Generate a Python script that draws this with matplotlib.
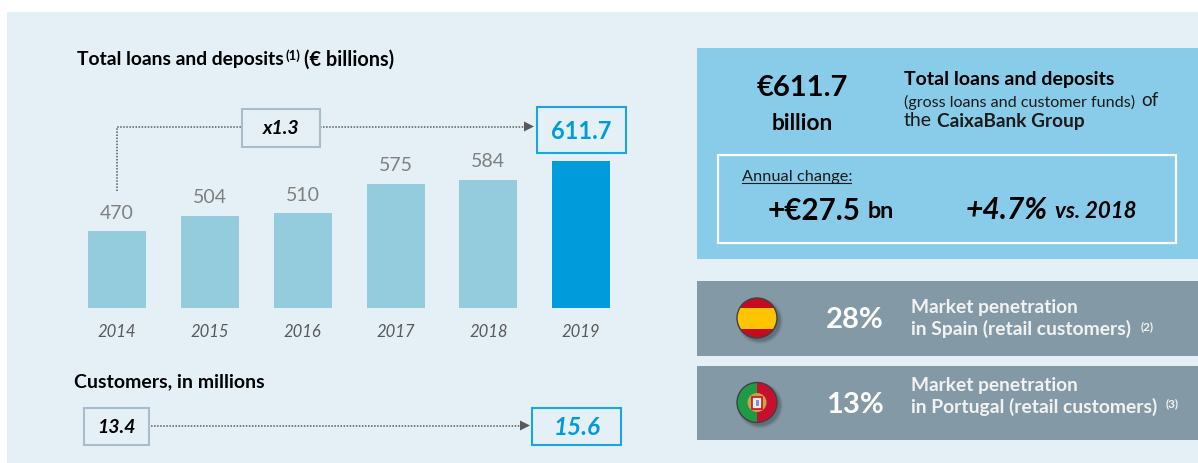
import matplotlib
matplotlib.use("Agg")
from matplotlib import pyplot as plt
from matplotlib.patches import Rectangle, Circle, Wedge

plt.rcParams['font.family'] = ['Lato', 'DejaVu Sans']

# chart values
years = ["2014", "2015", "2016", "2017", "2018", "2019"]
bar_heights = [470, 504, 510, 575, 584, 625.7]
loan_labels = ["470", "504", "510", "575", "584"]
customers = ["13.4", "15.6"]

W, H = 1198, 464
light = "#94cbdd"
strong = "#009bdb"
grey_txt = "#7f7f7f"
dots = "#595959"
panel = "#e5f0f6"
soft = "#f2f2f2"

fig = plt.figure(figsize=(W / 100, H / 100), dpi=100, facecolor="white")

# overlay in pixel coordinates, y going down
bg = fig.add_axes([0, 0, 1, 1])
bg.set_xlim(0, W)
bg.set_ylim(H - 0.5, -0.5)
bg.axis("off")


def box(x0, y0, x1, y1, fc="none", ec="none", lw=0, z=1):
    bg.add_patch(Rectangle((x0, y0), x1 - x0, y1 - y0, fc=fc, ec=ec, lw=lw, zorder=z))


def txt(x, y, s, size, color="black", weight="normal", style="normal", ha="left"):
    return bg.text(x, y + 0.5, s, fontsize=size, color=color, fontweight=weight,
                   fontstyle=style, ha=ha, va="center", zorder=5)


def dotted(xs, ys):
    bg.plot(xs, ys, color=dots, lw=1.1, ls=(0, (1, 1)), zorder=2)


def arrow_head(x, y):
    bg.fill([x - 10, x, x - 10], [y - 5, y, y + 5], color=dots, zorder=3, lw=0)


def flag_base(cx, cy, r):
    # soft drop shadow
    for grow, alpha in [(3, 0.12), (2, 0.18), (1, 0.25), (0, 0.3)]:
        bg.add_patch(Circle((cx + 3, cy + 3), r + grow, fc="#4f5a62", ec="none", alpha=alpha, zorder=2))


box(7, 12, W, H + 1, fc=panel)

# bar chart
ax = fig.add_axes([(117.2 - 46.4) / W, (H - 309) / H, 92.8 * 6 / W, 208 / H])
ax.patch.set_alpha(0)
ax.bar(range(len(years)), bar_heights, width=0.625, color=[light] * 5 + [strong])
ax.set_xlim(-0.5, 5.5)
ax.set_ylim(299, 761)
ax.set_yticks([])
ax.set_xticks(range(len(years)))
ax.set_xticklabels(years, fontstyle="italic", fontsize=12, color="#595959")
ax.tick_params(axis="x", length=0, pad=11)
for s in ax.spines.values():
    s.set_visible(False)
for i, lab in enumerate(loan_labels):
    ax.annotate(lab, (i, bar_heights[i]), xytext=(0, 19), textcoords="offset pixels",
                ha="center", va="center", fontsize=14, color=grey_txt)

# left titles
txt(77, 59, "Total loans and deposits", 13.9, weight="bold")
txt(285, 55, "(1)", 9.5, weight="bold")
txt(304, 59, "(€ billions)", 14.3, weight="bold")
txt(74, 381, "Customers, in millions", 14, weight="bold")

# x1.3 connector
dotted([117, 117, 243], [191, 127, 127])
box(242, 109, 320, 147, fc=panel, ec="#a9bccb", lw=1.5, z=3)
txt(281, 128, "x1.3", 14, weight="bold", style="italic", ha="center")
dotted([320, 524], [127, 127])
arrow_head(534, 127)
box(537, 107, 626, 153, fc=panel, ec="#1aa5e0", lw=1.5, z=3)
txt(581, 131, "611.7", 17, color=strong, weight="bold", ha="center")

# customers row
dotted([148, 520], [426, 426])
box(84, 408, 149, 445, fc=panel, ec="#a9bccb", lw=1.5, z=3)
txt(116, 427, customers[0], 14, weight="bold", style="italic", ha="center")
arrow_head(530, 426)
box(532, 408, 621, 445, fc=panel, ec="#1aa5e0", lw=1.5, z=3)
txt(577, 427, customers[1], 17.5, color=strong, style="italic", weight="bold", ha="center")

# top right panel
box(697, 48, W, 259, fc="#89cce9")
box(718, 155, 1176, 243, ec="white", lw=1.6, z=2)
txt(802, 87, "€611.7", 21, weight="bold", ha="center")
txt(802, 122, "billion", 16.3, weight="bold", ha="center")
txt(904, 79, "Total loans and deposits", 14, weight="bold")
txt(904, 101, "(gross loans and customer funds)", 11.6, color="#1a1a1a")
txt(1141, 100, "of", 13.5, color="#1a1a1a")
txt(904, 120, "the", 14, color="#1a1a1a")
txt(937, 120, "CaixaBank Group", 13.7, weight="bold", color="#1a1a1a")
txt(742, 176, "Annual change:", 11.8, color="#1a1a1a")
bg.plot([742, 851], [183.5, 183.5], color="#1a1a1a", lw=0.8, zorder=5)
txt(768, 210, "+€27.5", 21.3, weight="bold")
txt(868, 211, "bn", 16.8, weight="bold")
txt(966, 209, "+4.7%", 21.6, weight="bold", style="italic")
txt(1055, 211, "vs. 2018", 16, weight="bold", style="italic")

# market penetration bars
box(697, 281, W, 356, fc="#8499a6")
box(697, 366, W, 440, fc="#8499a6")
txt(855, 319, "28%", 21, color="white", weight="bold", ha="center")
txt(855, 404, "13%", 21, color="white", weight="bold", ha="center")
txt(911, 307, "Market penetration", 13.8, color=soft, weight="bold")
txt(911, 328, "in Spain (retail customers)", 13.9, color=soft, weight="bold")
txt(1141, 326, "(2)", 8.5, color=soft, weight="bold")
txt(911, 385, "Market penetration", 13.8, color=soft, weight="bold")
txt(911, 406, "in Portugal (retail customers)", 13.9, color=soft, weight="bold")
txt(1166, 403, "(3)", 8.5, color=soft, weight="bold")

# Spain flag
cx, cy, r = 757, 318.5, 20
flag_base(cx, cy, r)
spain = Circle((cx, cy), r, fc="#c60b1e", ec="none", zorder=3)
bg.add_patch(spain)
band = Rectangle((cx - r, cy - 10.5), 2 * r, 21, fc="#ffc400", ec="none", zorder=4)
bg.add_patch(band)
band.set_clip_path(spain)
bg.add_patch(Circle((cx, cy), r, fc="none", ec="#404040", lw=1, zorder=4.5))

# Portugal flag
cy = 403
flag_base(cx, cy, r)
bg.add_patch(Wedge((cx, cy), r, 90, 270, fc="#1f9a46", ec="none", zorder=3))
bg.add_patch(Wedge((cx, cy), r, 270, 90, fc="#c8102e", ec="none", zorder=3))
bg.add_patch(Circle((cx, cy), 9.5, fc="#c9a63f", ec="none", zorder=4))
bg.add_patch(Rectangle((cx - 5, cy - 6), 10, 12, fc="#eeeeee", ec="#c8102e", lw=1.2, zorder=4.2))
bg.add_patch(Rectangle((cx - 1.5, cy - 3), 3, 6, fc="#7f96c6", ec="none", zorder=4.3))
bg.add_patch(Circle((cx, cy), r, fc="none", ec="#404040", lw=1, zorder=4.5))

fig.savefig("out.png", dpi=100)
